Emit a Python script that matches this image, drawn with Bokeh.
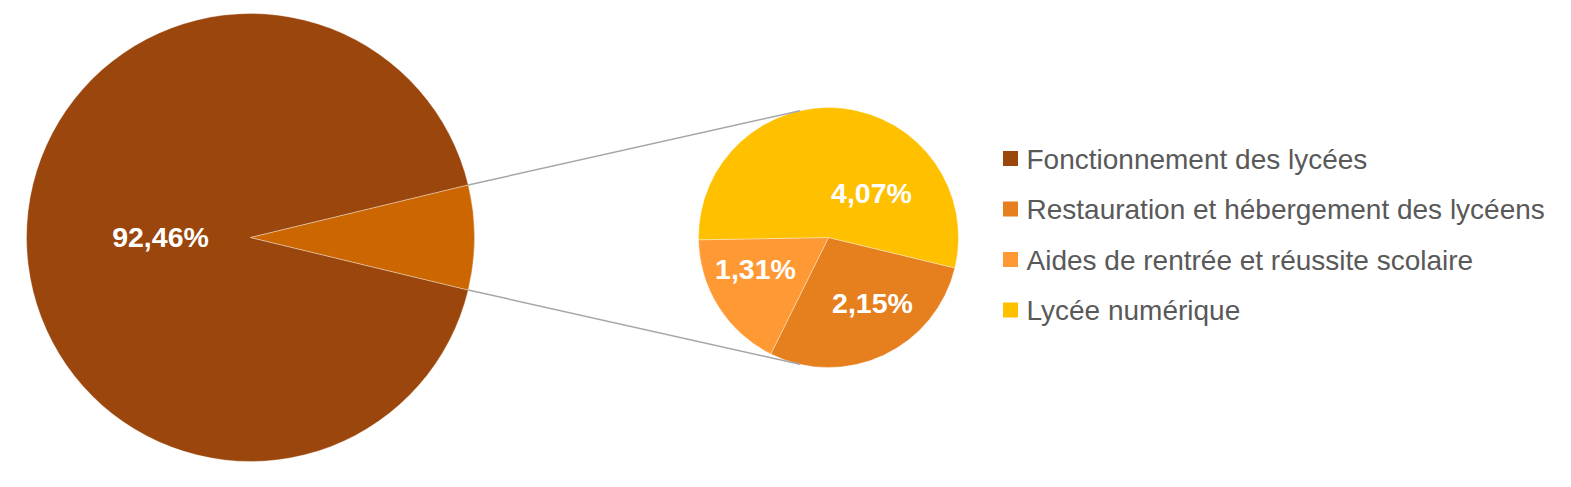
import math
from bokeh.plotting import figure
from bokeh.models import Range1d
from bokeh.core.properties import value
from bokeh.embed import file_html
from bokeh.resources import INLINE

# ---------------- data ----------------
categories = ["Fonctionnement des lycées",
              "Restauration et hébergement des lycéens",
              "Aides de rentrée et réussite scolaire",
              "Lycée numérique"]
values = [92.46, 2.15, 1.31, 4.07]
labels = ["92,46%", "2,15%", "1,31%", "4,07%"]
colors = ["#9A460C", "#E6801F", "#FF9933", "#FFC000"]
other_color = "#CC6600"

# ---------------- layout ----------------
W, H = 1555, 471


def sy(y):
    return H - y


main_c = (250, sy(237))
main_r = 224
sec_c = (828, sy(237))
sec_r = 130
# label positions (screen coords, baseline)
label_pos = [(160, 236), (872, 302), (755, 268), (871, 192)]
legend_x = 1010
legend_y0 = 158
legend_dy = 50.5
legend_sq = 15
font = value("Liberation Sans")

p = figure(width=W, height=H, x_range=Range1d(0, W), y_range=Range1d(0, H),
           output_backend="svg", toolbar_location=None, min_border=0)
p.axis.visible = False
p.grid.visible = False
p.outline_line_color = None
p.background_fill_color = "white"
p.border_fill_color = "white"

total = sum(values)
other = sum(values[1:])
half = math.pi * other / total

# main pie
p.wedge(x=[main_c[0]], y=[main_c[1]], radius=main_r,
        start_angle=[half], end_angle=[2 * math.pi - half],
        fill_color=colors[0], line_color="white", line_alpha=0.35, line_width=1)
p.wedge(x=[main_c[0]], y=[main_c[1]], radius=main_r,
        start_angle=[-half], end_angle=[half],
        fill_color=other_color, line_color="white", line_alpha=0.35, line_width=1)

# secondary pie (clockwise from -half)
a = -half
starts, ends = [], []
for v in values[1:]:
    e = a
    s = a - 2 * math.pi * v / other
    starts.append(s)
    ends.append(e)
    a = s
p.wedge(x=[sec_c[0]] * 3, y=[sec_c[1]] * 3, radius=sec_r,
        start_angle=starts, end_angle=ends,
        fill_color=colors[1:], line_color="white", line_alpha=0.35, line_width=1)

# connector lines: tangents from main slice edge points to secondary pie
for sign in (1, -1):
    px = main_c[0] + main_r * math.cos(sign * half)
    py = main_c[1] + main_r * math.sin(sign * half)
    dx, dy = px - sec_c[0], py - sec_c[1]
    d = math.hypot(dx, dy)
    base = math.atan2(dy, dx)
    ang = base - sign * math.acos(sec_r / d)
    tx = sec_c[0] + sec_r * math.cos(ang)
    ty = sec_c[1] + sec_r * math.sin(ang)
    p.line([px, tx], [py, ty], line_color="#A6A6A6", line_width=1.5)

# data labels
p.text(x=[lp[0] for lp in label_pos], y=[sy(lp[1]) for lp in label_pos], text=labels,
       text_font=font, text_font_style="bold", text_font_size="28.5px",
       text_color="white", text_align="center", text_baseline="alphabetic")

# legend
ly = [legend_y0 + i * legend_dy for i in range(len(categories))]
p.rect(x=[legend_x] * len(categories), y=[sy(y) for y in ly],
       width=legend_sq, height=legend_sq, fill_color=colors, line_color=None)
p.text(x=[legend_x + 16] * len(categories), y=[sy(y + 0.7) for y in ly], text=categories,
       text_font=font, text_font_size="28px", text_color="#595959",
       text_align="left", text_baseline="alphabetic")

open("out.html", "w").write(file_html(p, INLINE))
